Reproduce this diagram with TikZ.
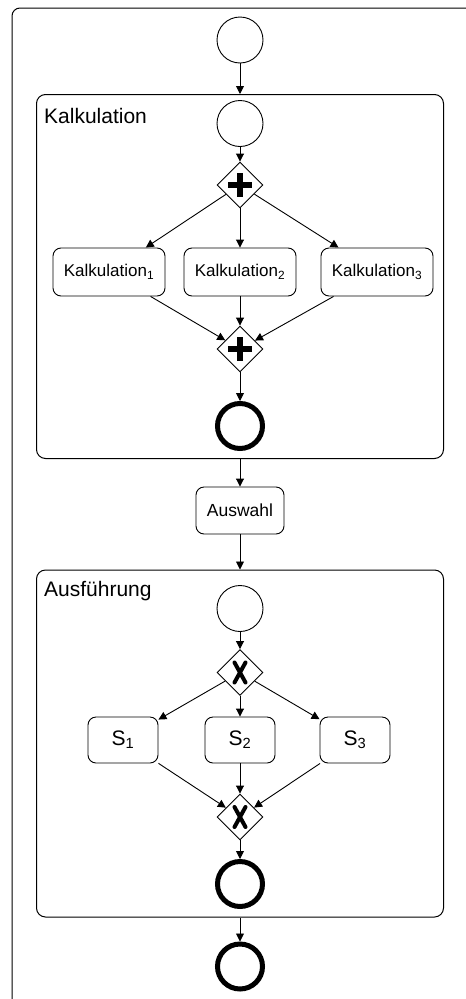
\documentclass[tikz,border=0pt]{standalone}
\usepackage{fontspec}
\setmainfont{Liberation Sans}
\usetikzlibrary{shapes.geometric,arrows.meta}
\begin{document}
\begin{tikzpicture}[x=1pt,y=-1pt,
  flow/.style={draw=black, line width=0.9pt, -{Triangle[length=8pt,width=8pt]}},
  startev/.style={circle, draw, line width=0.9pt, minimum size=46pt, inner sep=0pt, fill=white},
  endev/.style={circle, draw, line width=5pt, minimum size=45pt, inner sep=0pt, fill=white},
  gateway/.style={diamond, draw, line width=0.9pt, minimum width=46pt, minimum height=46pt, inner sep=0pt, fill=white},
  parallel/.style={gateway, path picture={
      \fill[black] ([xshift=-12pt,yshift=-3pt]path picture bounding box.center) rectangle ++(24pt,6pt);
      \fill[black] ([xshift=-3pt,yshift=-12pt]path picture bounding box.center) rectangle ++(6pt,24pt);}},
  exclusive/.style={gateway, path picture={
      \draw[black, line width=4pt, line cap=round]
        ([xshift=-5.5pt,yshift=10pt]path picture bounding box.center) -- ([xshift=5.5pt,yshift=-10pt]path picture bounding box.center)
        ([xshift=5.5pt,yshift=10pt]path picture bounding box.center) -- ([xshift=-5.5pt,yshift=-10pt]path picture bounding box.center);}},
  task/.style={rectangle, rounded corners=8pt, draw, line width=0.9pt, minimum height=47pt, inner sep=0pt, fill=white},
  container/.style={rectangle, rounded corners=9pt, draw, line width=1pt, inner sep=0pt, minimum width=407pt},
  title/.style={anchor=base west, inner sep=0pt, font=\fontsize{21}{24}\selectfont}
]
\useasboundingbox (0,0) rectangle (466,999);
\clip (0,0) rectangle (466,999);

% outer frame, running past the page on the right and bottom
\draw[line width=1pt, rounded corners=8pt] (12,8) rectangle (490,1030);

% sub-processes
\node[container, minimum height=364pt] (kalk) at (240,276.5) {};
\node[title] (ktitle) at (44,123) {Kalkulation};
\node[container, minimum height=347pt] (ausf) at (240,743.5) {};
\node[title] (atitle) at (44,596) {Ausführung};

% top level
\node[startev] (start0) at (240,40) {};
\node[task, minimum width=88pt, font=\fontsize{17.5}{20}\selectfont] (auswahl) at (240,510.5) {Auswahl};
\node[endev] (final) at (240,966.5) {};

% Kalkulation
\node[startev] (kstart) at (240,123.5) {};
\node[parallel] (kfork) at (240,185) {};
\node[task, minimum width=112pt, minimum height=48pt, font=\fontsize{17}{20}\selectfont] (k1) at (109,272) {Kalkulation\textsubscript{1}};
\node[task, minimum width=112pt, minimum height=48pt, font=\fontsize{17}{20}\selectfont] (k2) at (240,272) {Kalkulation\textsubscript{2}};
\node[task, minimum width=112pt, minimum height=48pt, font=\fontsize{17}{20}\selectfont] (k3) at (377,272) {Kalkulation\textsubscript{3}};
\node[parallel] (kjoin) at (240,349) {};
\node[endev] (kend) at (240,426) {};

% Ausfuehrung
\node[startev] (astart) at (240,608.5) {};
\node[exclusive] (xfork) at (240,672.5) {};
\node[task, minimum width=70pt, minimum height=46pt, font=\fontsize{21}{24}\selectfont] (s1) at (123,740) {S\textsubscript{1}};
\node[task, minimum width=70pt, minimum height=46pt, font=\fontsize{21}{24}\selectfont] (s2) at (240,740) {S\textsubscript{2}};
\node[task, minimum width=70pt, minimum height=46pt, font=\fontsize{21}{24}\selectfont] (s3) at (355,740) {S\textsubscript{3}};
\node[exclusive] (xjoin) at (240,817) {};
\node[endev] (aend) at (240,884) {};

% sequence flows
\draw[flow] (start0) -- (kalk.north);
\draw[flow] (kstart) -- (kfork);
\draw[flow] (kfork) -- (k1);
\draw[flow] (kfork) -- (k2);
\draw[flow] (kfork) -- (k3);
\draw[flow] (k1) -- (kjoin);
\draw[flow] (k2) -- (kjoin);
\draw[flow] (k3) -- (kjoin);
\draw[flow] (kjoin) -- (kend);
\draw[flow] (kalk.south) -- (auswahl);
\draw[flow] (auswahl) -- (ausf.north);
\draw[flow] (astart) -- (xfork);
\draw[flow] (xfork) -- (s1);
\draw[flow] (xfork) -- (s2);
\draw[flow] (xfork) -- (s3);
\draw[flow] (s1) -- (xjoin);
\draw[flow] (s2) -- (xjoin);
\draw[flow] (s3) -- (xjoin);
\draw[flow] (xjoin) -- (aend);
\draw[flow] (ausf.south) -- (final);
\end{tikzpicture}
\end{document}
